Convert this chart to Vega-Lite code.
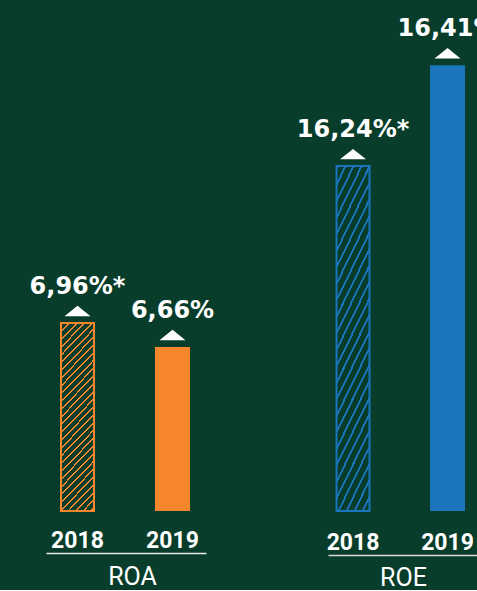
{
  "$schema": "https://vega.github.io/schema/vega-lite/v6.json",
  "background": "#083D2B",
  "padding": {"left": 29, "top": 10, "right": 0, "bottom": 0},
  "spacing": 122,
  "bounds": "flush",
  "datasets": {
    "d": [
      {"metric": "ROA", "year": "2018", "value": 6.96, "label": "6,96%*"},
      {"metric": "ROA", "year": "2019", "value": 6.66, "label": "6,66%"},
      {"metric": "ROE", "year": "2018", "value": 16.24, "label": "16,24%*"},
      {"metric": "ROE", "year": "2019", "value": 16.41, "label": "16,41%"}
    ]
  },
  "hconcat": [
    {
      "width": 160,
      "height": 501,
      "data": {"name": "d"},
      "transform": [{"filter": "datum.metric === 'ROA'"}],
      "encoding": {
        "x": {"field": "year", "type": "nominal", "sort": null,
          "scale": {"paddingInner": 0.5, "paddingOuter": 0.0921, "align": 0.443},
          "axis": {"title": "ROA", "offset": 42, "titleX": 86, "titleY": 31}},
        "y": {"field": "value", "type": "quantitative",
          "scale": {"domain": [4.61, 10.8725], "zero": false, "nice": false, "clamp": true},
          "axis": null}
      },
      "layer": [
        {
          "transform": [{"filter": "datum.year === '2018'"}],
          "mark": {"type": "bar", "width": 33, "stroke": "#F5862B", "strokeWidth": 2,
            "fill": {"gradient": "linear", "x1": 0, "y1": 0, "x2": 0.2068, "y2": 1.1435, "stops": [
              {"offset": 0, "color": "#F5862B"}, {"offset": 0.009, "color": "#F5862B"}, {"offset": 0.009, "color": "#083D2B"}, {"offset": 0.035, "color": "#083D2B"},
              {"offset": 0.035, "color": "#F5862B"}, {"offset": 0.044, "color": "#F5862B"}, {"offset": 0.044, "color": "#083D2B"}, {"offset": 0.07, "color": "#083D2B"},
              {"offset": 0.07, "color": "#F5862B"}, {"offset": 0.079, "color": "#F5862B"}, {"offset": 0.079, "color": "#083D2B"}, {"offset": 0.105, "color": "#083D2B"},
              {"offset": 0.105, "color": "#F5862B"}, {"offset": 0.114, "color": "#F5862B"}, {"offset": 0.114, "color": "#083D2B"}, {"offset": 0.14, "color": "#083D2B"},
              {"offset": 0.14, "color": "#F5862B"}, {"offset": 0.149, "color": "#F5862B"}, {"offset": 0.149, "color": "#083D2B"}, {"offset": 0.175, "color": "#083D2B"},
              {"offset": 0.175, "color": "#F5862B"}, {"offset": 0.184, "color": "#F5862B"}, {"offset": 0.184, "color": "#083D2B"}, {"offset": 0.21, "color": "#083D2B"},
              {"offset": 0.21, "color": "#F5862B"}, {"offset": 0.219, "color": "#F5862B"}, {"offset": 0.219, "color": "#083D2B"}, {"offset": 0.245, "color": "#083D2B"},
              {"offset": 0.245, "color": "#F5862B"}, {"offset": 0.254, "color": "#F5862B"}, {"offset": 0.254, "color": "#083D2B"}, {"offset": 0.28, "color": "#083D2B"},
              {"offset": 0.28, "color": "#F5862B"}, {"offset": 0.289, "color": "#F5862B"}, {"offset": 0.289, "color": "#083D2B"}, {"offset": 0.315, "color": "#083D2B"},
              {"offset": 0.315, "color": "#F5862B"}, {"offset": 0.324, "color": "#F5862B"}, {"offset": 0.324, "color": "#083D2B"}, {"offset": 0.35, "color": "#083D2B"},
              {"offset": 0.35, "color": "#F5862B"}, {"offset": 0.359, "color": "#F5862B"}, {"offset": 0.359, "color": "#083D2B"}, {"offset": 0.385, "color": "#083D2B"},
              {"offset": 0.385, "color": "#F5862B"}, {"offset": 0.394, "color": "#F5862B"}, {"offset": 0.394, "color": "#083D2B"}, {"offset": 0.42, "color": "#083D2B"},
              {"offset": 0.42, "color": "#F5862B"}, {"offset": 0.429, "color": "#F5862B"}, {"offset": 0.429, "color": "#083D2B"}, {"offset": 0.455, "color": "#083D2B"},
              {"offset": 0.455, "color": "#F5862B"}, {"offset": 0.464, "color": "#F5862B"}, {"offset": 0.464, "color": "#083D2B"}, {"offset": 0.49, "color": "#083D2B"},
              {"offset": 0.49, "color": "#F5862B"}, {"offset": 0.499, "color": "#F5862B"}, {"offset": 0.499, "color": "#083D2B"}, {"offset": 0.525, "color": "#083D2B"},
              {"offset": 0.525, "color": "#F5862B"}, {"offset": 0.534, "color": "#F5862B"}, {"offset": 0.534, "color": "#083D2B"}, {"offset": 0.56, "color": "#083D2B"},
              {"offset": 0.56, "color": "#F5862B"}, {"offset": 0.569, "color": "#F5862B"}, {"offset": 0.569, "color": "#083D2B"}, {"offset": 0.595, "color": "#083D2B"},
              {"offset": 0.595, "color": "#F5862B"}, {"offset": 0.604, "color": "#F5862B"}, {"offset": 0.604, "color": "#083D2B"}, {"offset": 0.63, "color": "#083D2B"},
              {"offset": 0.63, "color": "#F5862B"}, {"offset": 0.639, "color": "#F5862B"}, {"offset": 0.639, "color": "#083D2B"}, {"offset": 0.665, "color": "#083D2B"},
              {"offset": 0.665, "color": "#F5862B"}, {"offset": 0.674, "color": "#F5862B"}, {"offset": 0.674, "color": "#083D2B"}, {"offset": 0.7, "color": "#083D2B"},
              {"offset": 0.7, "color": "#F5862B"}, {"offset": 0.709, "color": "#F5862B"}, {"offset": 0.709, "color": "#083D2B"}, {"offset": 0.735, "color": "#083D2B"},
              {"offset": 0.735, "color": "#F5862B"}, {"offset": 0.744, "color": "#F5862B"}, {"offset": 0.744, "color": "#083D2B"}, {"offset": 0.77, "color": "#083D2B"},
              {"offset": 0.77, "color": "#F5862B"}, {"offset": 0.779, "color": "#F5862B"}, {"offset": 0.779, "color": "#083D2B"}, {"offset": 0.805, "color": "#083D2B"},
              {"offset": 0.805, "color": "#F5862B"}, {"offset": 0.814, "color": "#F5862B"}, {"offset": 0.814, "color": "#083D2B"}, {"offset": 0.84, "color": "#083D2B"},
              {"offset": 0.84, "color": "#F5862B"}, {"offset": 0.849, "color": "#F5862B"}, {"offset": 0.849, "color": "#083D2B"}, {"offset": 0.875, "color": "#083D2B"},
              {"offset": 0.875, "color": "#F5862B"}, {"offset": 0.884, "color": "#F5862B"}, {"offset": 0.884, "color": "#083D2B"}, {"offset": 0.91, "color": "#083D2B"},
              {"offset": 0.91, "color": "#F5862B"}, {"offset": 0.919, "color": "#F5862B"}, {"offset": 0.919, "color": "#083D2B"}, {"offset": 0.945, "color": "#083D2B"},
              {"offset": 0.945, "color": "#F5862B"}, {"offset": 0.954, "color": "#F5862B"}, {"offset": 0.954, "color": "#083D2B"}, {"offset": 0.98, "color": "#083D2B"},
              {"offset": 0.98, "color": "#F5862B"}, {"offset": 0.989, "color": "#F5862B"}, {"offset": 0.989, "color": "#083D2B"}, {"offset": 1, "color": "#083D2B"}
            ]}}
        },
        {
          "transform": [{"filter": "datum.year === '2019'"}],
          "mark": {"type": "bar", "width": 35, "fill": "#F5862B"}
        },
        {
          "mark": {"type": "point", "shape": "M-1,0.4L1,0.4L0,-0.4Z", "size": 676, "filled": true, "color": "white", "opacity": 1, "strokeWidth": 0, "yOffset": -12}
        },
        {
          "mark": {"type": "text", "font": "DejaVu Sans", "fontWeight": "bold", "fontSize": 24, "color": "white", "dy": -29, "baseline": "alphabetic"},
          "encoding": {"text": {"field": "label"}}
        }
      ]
    },
    {
      "width": 150,
      "height": 501,
      "data": {"name": "d"},
      "transform": [{"filter": "datum.metric === 'ROE'"}],
      "encoding": {
        "x": {"field": "year", "type": "nominal", "sort": null,
          "scale": {"paddingInner": 0.5, "paddingOuter": 0.0437, "align": 0.17},
          "axis": {"title": "ROE", "offset": 44, "titleX": 75, "titleY": 30, "domainColor": "#d8d8d8"}},
        "y": {"field": "value", "type": "quantitative",
          "scale": {"domain": [15.659, 16.503], "zero": false, "nice": false, "clamp": true},
          "axis": null}
      },
      "layer": [
        {
          "transform": [{"filter": "datum.year === '2018'"}],
          "mark": {"type": "bar", "width": 33, "stroke": "#1B75BC", "strokeWidth": 2,
            "fill": {"gradient": "linear", "x1": 0, "y1": 0, "x2": 0.2271, "y2": 1.1523, "stops": [
              {"offset": 0, "color": "#1B75BC"}, {"offset": 0.01, "color": "#1B75BC"}, {"offset": 0.01, "color": "#083D2B"}, {"offset": 0.04, "color": "#083D2B"},
              {"offset": 0.04, "color": "#1B75BC"}, {"offset": 0.05, "color": "#1B75BC"}, {"offset": 0.05, "color": "#083D2B"}, {"offset": 0.08, "color": "#083D2B"},
              {"offset": 0.08, "color": "#1B75BC"}, {"offset": 0.09, "color": "#1B75BC"}, {"offset": 0.09, "color": "#083D2B"}, {"offset": 0.12, "color": "#083D2B"},
              {"offset": 0.12, "color": "#1B75BC"}, {"offset": 0.13, "color": "#1B75BC"}, {"offset": 0.13, "color": "#083D2B"}, {"offset": 0.16, "color": "#083D2B"},
              {"offset": 0.16, "color": "#1B75BC"}, {"offset": 0.17, "color": "#1B75BC"}, {"offset": 0.17, "color": "#083D2B"}, {"offset": 0.2, "color": "#083D2B"},
              {"offset": 0.2, "color": "#1B75BC"}, {"offset": 0.21, "color": "#1B75BC"}, {"offset": 0.21, "color": "#083D2B"}, {"offset": 0.24, "color": "#083D2B"},
              {"offset": 0.24, "color": "#1B75BC"}, {"offset": 0.25, "color": "#1B75BC"}, {"offset": 0.25, "color": "#083D2B"}, {"offset": 0.28, "color": "#083D2B"},
              {"offset": 0.28, "color": "#1B75BC"}, {"offset": 0.29, "color": "#1B75BC"}, {"offset": 0.29, "color": "#083D2B"}, {"offset": 0.32, "color": "#083D2B"},
              {"offset": 0.32, "color": "#1B75BC"}, {"offset": 0.33, "color": "#1B75BC"}, {"offset": 0.33, "color": "#083D2B"}, {"offset": 0.36, "color": "#083D2B"},
              {"offset": 0.36, "color": "#1B75BC"}, {"offset": 0.37, "color": "#1B75BC"}, {"offset": 0.37, "color": "#083D2B"}, {"offset": 0.4, "color": "#083D2B"},
              {"offset": 0.4, "color": "#1B75BC"}, {"offset": 0.41, "color": "#1B75BC"}, {"offset": 0.41, "color": "#083D2B"}, {"offset": 0.44, "color": "#083D2B"},
              {"offset": 0.44, "color": "#1B75BC"}, {"offset": 0.45, "color": "#1B75BC"}, {"offset": 0.45, "color": "#083D2B"}, {"offset": 0.48, "color": "#083D2B"},
              {"offset": 0.48, "color": "#1B75BC"}, {"offset": 0.49, "color": "#1B75BC"}, {"offset": 0.49, "color": "#083D2B"}, {"offset": 0.52, "color": "#083D2B"},
              {"offset": 0.52, "color": "#1B75BC"}, {"offset": 0.53, "color": "#1B75BC"}, {"offset": 0.53, "color": "#083D2B"}, {"offset": 0.56, "color": "#083D2B"},
              {"offset": 0.56, "color": "#1B75BC"}, {"offset": 0.57, "color": "#1B75BC"}, {"offset": 0.57, "color": "#083D2B"}, {"offset": 0.6, "color": "#083D2B"},
              {"offset": 0.6, "color": "#1B75BC"}, {"offset": 0.61, "color": "#1B75BC"}, {"offset": 0.61, "color": "#083D2B"}, {"offset": 0.64, "color": "#083D2B"},
              {"offset": 0.64, "color": "#1B75BC"}, {"offset": 0.65, "color": "#1B75BC"}, {"offset": 0.65, "color": "#083D2B"}, {"offset": 0.68, "color": "#083D2B"},
              {"offset": 0.68, "color": "#1B75BC"}, {"offset": 0.69, "color": "#1B75BC"}, {"offset": 0.69, "color": "#083D2B"}, {"offset": 0.72, "color": "#083D2B"},
              {"offset": 0.72, "color": "#1B75BC"}, {"offset": 0.73, "color": "#1B75BC"}, {"offset": 0.73, "color": "#083D2B"}, {"offset": 0.76, "color": "#083D2B"},
              {"offset": 0.76, "color": "#1B75BC"}, {"offset": 0.77, "color": "#1B75BC"}, {"offset": 0.77, "color": "#083D2B"}, {"offset": 0.8, "color": "#083D2B"},
              {"offset": 0.8, "color": "#1B75BC"}, {"offset": 0.81, "color": "#1B75BC"}, {"offset": 0.81, "color": "#083D2B"}, {"offset": 0.84, "color": "#083D2B"},
              {"offset": 0.84, "color": "#1B75BC"}, {"offset": 0.85, "color": "#1B75BC"}, {"offset": 0.85, "color": "#083D2B"}, {"offset": 0.88, "color": "#083D2B"},
              {"offset": 0.88, "color": "#1B75BC"}, {"offset": 0.89, "color": "#1B75BC"}, {"offset": 0.89, "color": "#083D2B"}, {"offset": 0.92, "color": "#083D2B"},
              {"offset": 0.92, "color": "#1B75BC"}, {"offset": 0.93, "color": "#1B75BC"}, {"offset": 0.93, "color": "#083D2B"}, {"offset": 0.96, "color": "#083D2B"},
              {"offset": 0.96, "color": "#1B75BC"}, {"offset": 0.97, "color": "#1B75BC"}, {"offset": 0.97, "color": "#083D2B"}, {"offset": 1, "color": "#083D2B"}
            ]}}
        },
        {
          "transform": [{"filter": "datum.year === '2019'"}],
          "mark": {"type": "bar", "width": 35, "fill": "#1B75BC"}
        },
        {
          "mark": {"type": "point", "shape": "M-1,0.4L1,0.4L0,-0.4Z", "size": 676, "filled": true, "color": "white", "opacity": 1, "strokeWidth": 0, "yOffset": -12}
        },
        {
          "transform": [{"filter": "datum.year === '2018'"}],
          "mark": {"type": "text", "font": "DejaVu Sans", "fontWeight": "bold", "fontSize": 24, "color": "white", "dy": -29, "baseline": "alphabetic"},
          "encoding": {"text": {"field": "label"}}
        },
        {
          "transform": [{"filter": "datum.year === '2019'"}],
          "mark": {"type": "text", "font": "DejaVu Sans", "fontWeight": "bold", "fontSize": 24, "color": "white", "dy": -29, "baseline": "alphabetic", "clip": true},
          "encoding": {"text": {"field": "label"}}
        }
      ]
    }
  ],
  "config": {
    "view": {"stroke": null},
    "axis": {
      "domainColor": "#e8e8e8", "domainWidth": 1.5, "ticks": false, "tickSize": 0, "grid": false,
      "labelColor": "white", "labelFont": "Roboto", "labelFontSize": 23, "labelFontWeight": "bold",
      "labelPadding": -6, "labelBaseline": "alphabetic", "labelAngle": 0,
      "titleColor": "white", "titleFont": "Roboto", "titleFontSize": 25, "titleFontWeight": "normal",
      "titleBaseline": "alphabetic"
    }
  }
}
